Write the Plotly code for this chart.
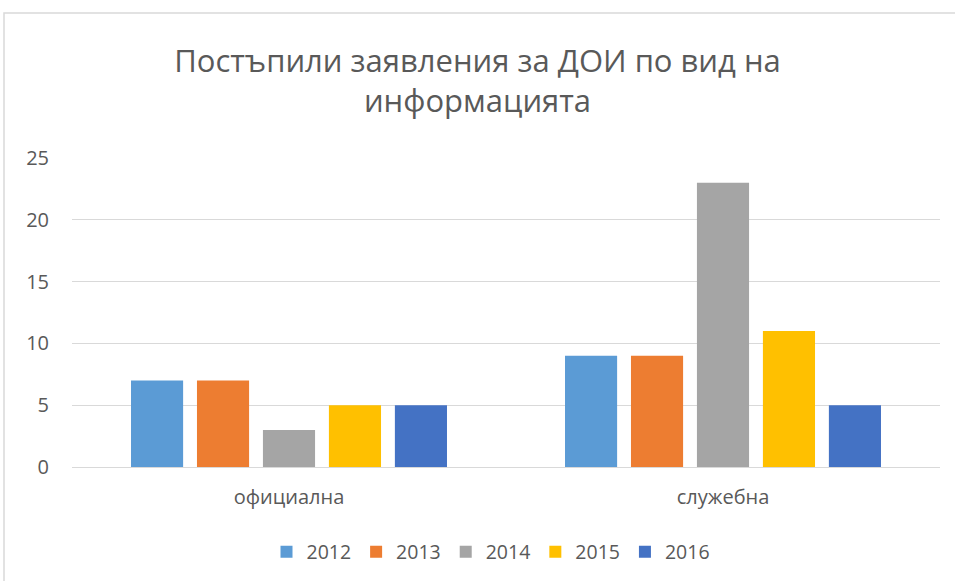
import plotly.graph_objects as go

categories = ["официална", "служебна"]
years = ["2012", "2013", "2014", "2015", "2016"]
values_2012 = [7, 9]
values_2013 = [7, 9]
values_2014 = [3, 23]
values_2015 = [5, 11]
values_2016 = [5, 5]
series = [values_2012, values_2013, values_2014, values_2015, values_2016]
colors = ["#5B9BD5", "#ED7D31", "#A5A5A5", "#FFC000", "#4472C4"]

fig = go.Figure()
for name, vals, col in zip(years, series, colors):
    fig.add_trace(go.Bar(x=categories, y=vals, name=name, marker=dict(color=col, line=dict(width=0))))

font_family = "Open Sans, Noto Sans, sans-serif"
fig.update_layout(
    width=955, height=581,
    paper_bgcolor="white", plot_bgcolor="white",
    margin=dict(l=72, r=15, t=158, b=114),
    barmode="group", bargap=0.24, bargroupgap=0.21,
    title=dict(text="Постъпили заявления за ДОИ по вид на<br>информацията",
               x=0.5, xanchor="center", y=1 - 72 / 581, yanchor="middle",
               font=dict(family=font_family, size=31, color="#595959")),
    font=dict(family=font_family, color="#595959"),
    legend=dict(orientation="h", x=491 / 955, xref="container", xanchor="center",
                y=1 - 552 / 581, yref="container", yanchor="middle",
                font=dict(size=19.5, color="#595959"), itemwidth=30, traceorder="normal"),
    xaxis=dict(showgrid=False, showline=True, linecolor="#D9D9D9", linewidth=1,
               tickfont=dict(size=20, color="#595959"), ticks="", ticklabelstandoff=12),
    yaxis=dict(range=[0, 25], dtick=5, showgrid=True, gridcolor="#D9D9D9", gridwidth=1,
               zeroline=False, showline=False, ticks="",
               tickfont=dict(size=20, color="#595959"), ticklabelstandoff=22),
    shapes=[dict(type="rect", xref="paper", yref="paper",
                 x0=(4 - 72) / 868, x1=1.2, y0=-0.6, y1=(467 - 13) / 309,
                 line=dict(color="#D9D9D9", width=1.5), fillcolor="rgba(0,0,0,0)", layer="below")],
)

fig.write_html("out.html", config={"displayModeBar": False},
               post_script="document.body.style.margin='0';document.body.style.padding='0';")
